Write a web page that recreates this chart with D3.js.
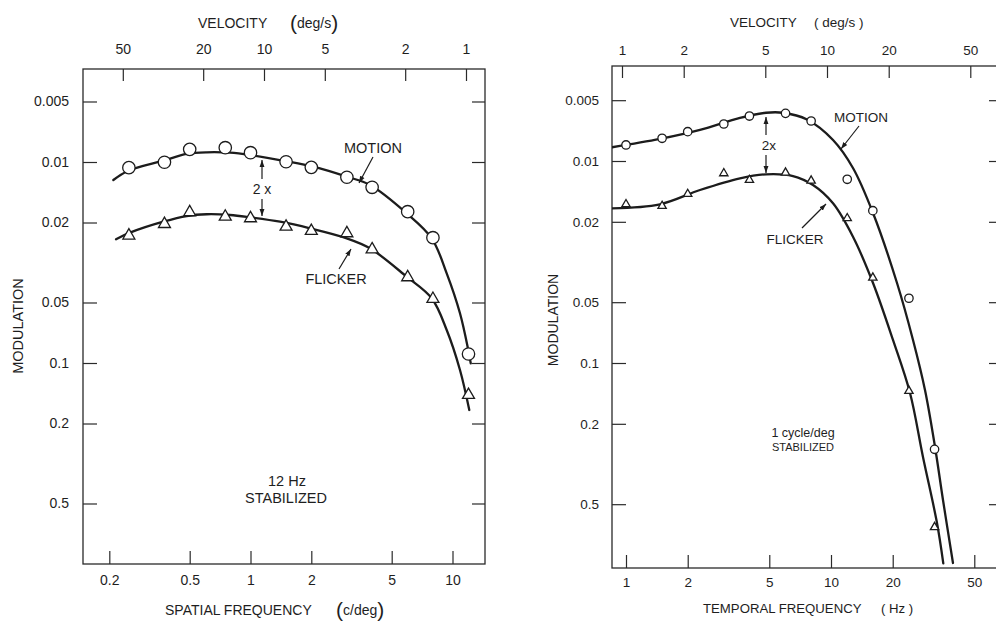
<!DOCTYPE html>
<html><head><meta charset="utf-8">
<script src="https://cdn.jsdelivr.net/npm/d3@7"></script>
<style>
body{margin:0;background:#fff}
svg{display:block}
text{font-family:"Liberation Sans",Arial,Helvetica,sans-serif;fill:#1e1e1e}
</style>
</head><body>
<svg id="c" width="996" height="621"></svg>
<script>
// ---------- data ----------
const yTicks = [0.005, 0.01, 0.02, 0.05, 0.1, 0.2, 0.5];
const yTickLabels = ["0.005", "0.01", "0.02", "0.05", "0.1", "0.2", "0.5"];

const sfTicks = [0.2, 0.5, 1, 2, 5, 10];
const sfTickLabels = ["0.2", "0.5", "1", "2", "5", "10"];
const velTicksLeft = [50, 20, 10, 5, 2, 1];
const velTickLabelsLeft = ["50", "20", "10", "5", "2", "1"];

const tfTicks = [1, 2, 5, 10, 20, 50];
const tfTickLabels = ["1", "2", "5", "10", "20", "50"];
const velTicksRight = [1, 2, 5, 10, 20, 50];
const velTickLabelsRight = ["1", "2", "5", "10", "20", "50"];

// left panel: spatial frequency (c/deg) at 12 Hz
const sfPoints = [0.25, 0.375, 0.5, 0.75, 1, 1.5, 2, 3, 4, 6, 8, 12];
const sfMotion = [0.01067, 0.01003, 0.00865, 0.00849, 0.00899, 0.00997, 0.01063, 0.01191, 0.01336, 0.01767, 0.0238, 0.0902];
const sfFlicker = [0.02323, 0.02035, 0.01779, 0.01871, 0.01906, 0.02099, 0.02204, 0.02263, 0.0272, 0.03747, 0.0480, 0.1443];

// fitted curves
const sfMotionCurveX = [0.2094, 0.2483, 0.370, 0.4833, 0.607, 0.7916, 0.994, 1.482, 2.046, 2.995, 3.905, 5.933, 7.889, 9.36, 10.89, 11.97, 12.31];
const sfMotionCurveY = [0.01229, 0.01105, 0.00985, 0.00912, 0.00895, 0.00899, 0.00923, 0.00989, 0.01055, 0.01183, 0.01301, 0.01800, 0.02397, 0.03579, 0.05657, 0.0862, 0.1003];
const sfFlickerCurveX = [0.2159, 0.2532, 0.370, 0.4833, 0.607, 0.7916, 0.994, 1.400, 1.970, 2.995, 3.905, 5.933, 7.889, 9.36, 10.89, 12.11];
const sfFlickerCurveY = [0.02424, 0.02247, 0.01982, 0.01857, 0.01820, 0.01835, 0.01884, 0.01982, 0.02137, 0.02397, 0.02688, 0.03722, 0.04766, 0.06852, 0.1083, 0.1713];

// right panel: temporal frequency (Hz) at 1 c/deg
const tfPoints = [1, 1.5, 2, 3, 4, 6, 8, 12, 16, 24, 32];
const tfMotion = [0.00833, 0.00772, 0.00716, 0.00656, 0.00599, 0.00581, 0.00634, 0.01232, 0.01762, 0.0478, 0.2675];
const tfFlicker = [0.01638, 0.0167, 0.01457, 0.01151, 0.01242, 0.01143, 0.01252, 0.01921, 0.03783, 0.1376, 0.650];

const tfMotionCurveX = [0.855, 1.465, 2.296, 3.598, 4.82, 5.833, 7.636, 10.23, 12.80, 16.03, 20.99, 25.12, 28.74, 32.17, 35.18, 39.36];
const tfMotionCurveY = [0.00855, 0.00778, 0.00702, 0.00612, 0.00577, 0.00577, 0.00623, 0.00787, 0.01083, 0.01809, 0.04018, 0.0769, 0.1360, 0.2605, 0.4767, 0.9772];
const tfFlickerCurveX = [0.855, 1.465, 2.296, 3.598, 4.82, 6.526, 8.171, 10.23, 12.80, 16.03, 20.06, 24.29, 28.10, 32.89, 35.30];
const tfFlickerCurveY = [0.01715, 0.01638, 0.01392, 0.01218, 0.01164, 0.01187, 0.01315, 0.01620, 0.02371, 0.04018, 0.0769, 0.1408, 0.2920, 0.6198, 0.9808];

const stimSpeedLeft = 12; // Hz  -> velocity = 12 / sf
const stimSfRight = 1;    // c/deg -> velocity = tf * 1

// ---------- drawing ----------
const svg = d3.select("#c");
const INK = "#1c1c1c";

const defs = svg.append("defs");
defs.append("marker").attr("id", "ah").attr("viewBox", "0 0 10 10")
  .attr("refX", 10).attr("refY", 5).attr("markerWidth", 7).attr("markerHeight", 7)
  .attr("markerUnits", "userSpaceOnUse").attr("orient", "auto")
  .append("path").attr("d", "M0,1.5 L10,5 L0,8.5 Z").attr("fill", INK);

function panel(cfg) {
  const g = svg.append("g");
  const x = d3.scaleLog().domain([1, 10]).range(cfg.xr);
  const y = d3.scaleLog().domain([0.01, 0.1]).range(cfg.yr);
  const top = d3.scaleLog().domain(cfg.velDom).range(cfg.velRange);
  const [fx0, fx1, fy0, fy1] = cfg.frame;

  const clipId = "clip" + cfg.id;
  defs.append("clipPath").attr("id", clipId).append("rect")
    .attr("x", fx0).attr("y", fy0).attr("width", fx1 - fx0).attr("height", fy1 - fy0);

  // frame
  g.append("rect").attr("x", fx0).attr("y", fy0).attr("width", fx1 - fx0).attr("height", fy1 - fy0)
    .attr("fill", "none").attr("stroke", "#2a2a2a").attr("stroke-width", 1.3);

  const styleAxis = (sel, fs) => {
    sel.select(".domain").remove();
    sel.selectAll(".tick line").attr("stroke", "#2a2a2a").attr("stroke-width", 1.2);
    sel.selectAll(".tick text").attr("font-size", fs).attr("fill", "#1e1e1e")
      .attr("font-family", '"Liberation Sans",Arial,sans-serif');
  };

  // bottom axis
  g.append("g").attr("transform", `translate(0,${fy1})`)
    .call(d3.axisBottom(x).tickValues(cfg.xTicks).tickFormat((d, i) => cfg.xLabels[i])
      .tickSizeInner(-13).tickSizeOuter(0).tickPadding(cfg.bPad))
    .call(s => styleAxis(s, cfg.fs));
  // top axis (velocity)
  g.append("g").attr("transform", `translate(0,${fy0})`)
    .call(d3.axisTop(top).tickValues(cfg.velTicks).tickFormat((d, i) => cfg.velLabels[i])
      .tickSizeInner(-12).tickSizeOuter(0).tickPadding(cfg.tPad))
    .call(s => styleAxis(s, cfg.fs));
  // left axis
  g.append("g").attr("transform", `translate(${fx0},0)`)
    .call(d3.axisLeft(y).tickValues(yTicks).tickFormat((d, i) => yTickLabels[i])
      .tickSizeInner(-14).tickSizeOuter(0).tickPadding(cfg.lPad))
    .call(s => styleAxis(s, cfg.fs));
  // right axis (ticks only)
  g.append("g").attr("transform", `translate(${fx1},0)`)
    .call(d3.axisRight(y).tickValues(yTicks).tickFormat("")
      .tickSizeInner(-cfg.rTick).tickSizeOuter(0))
    .call(s => styleAxis(s, cfg.fs));

  // curves
  const line = d3.line().x(d => x(d[0])).y(d => y(d[1])).curve(d3.curveCatmullRom.alpha(0.5));
  const cg = g.append("g").attr("clip-path", `url(#${clipId})`);
  [[cfg.mcx, cfg.mcy], [cfg.fcx, cfg.fcy]].forEach(([cx, cy]) => {
    cg.append("path").datum(d3.zip(cx, cy)).attr("d", line)
      .attr("fill", "none").attr("stroke", INK).attr("stroke-width", 2.3)
      .attr("stroke-linecap", "round");
  });

  // points
  g.append("g").selectAll("circle").data(d3.zip(cfg.px, cfg.motion)).join("circle")
    .attr("cx", d => x(d[0])).attr("cy", d => y(d[1])).attr("r", cfg.r)
    .attr("fill", "#fff").attr("stroke", INK).attr("stroke-width", 1.3);
  const tri = d3.symbol().type(d3.symbolTriangle).size(cfg.tri);
  g.append("g").selectAll("path").data(d3.zip(cfg.px, cfg.flicker)).join("path")
    .attr("transform", d => `translate(${x(d[0])},${y(d[1])})`).attr("d", tri)
    .attr("fill", "#fff").attr("stroke", INK).attr("stroke-width", 1.3);

  return {g, x, y};
}

function arrow(g, x1, y1, x2, y2) {
  g.append("line").attr("x1", x1).attr("y1", y1).attr("x2", x2).attr("y2", y2)
    .attr("stroke", INK).attr("stroke-width", 1.2).attr("marker-end", "url(#ah)");
}
function label(g, txt, x, y, fs, anchor) {
  return g.append("text").attr("x", x).attr("y", y).attr("font-size", fs)
    .attr("text-anchor", anchor || "middle").attr("dominant-baseline", "central").text(txt);
}

// left panel
const L = panel({
  id: "L", xr: [250.5, 452.5], yr: [162, 363], frame: [83, 485, 69, 564],
  velDom: [stimSpeedLeft / 1, stimSpeedLeft / 10], velRange: [248, 450],
  xTicks: sfTicks, xLabels: sfTickLabels, velTicks: velTicksLeft, velLabels: velTickLabelsLeft,
  fs: 14, bPad: 11, tPad: 15, lPad: 14, rTick: 13,
  mcx: sfMotionCurveX, mcy: sfMotionCurveY, fcx: sfFlickerCurveX, fcy: sfFlickerCurveY,
  px: sfPoints, motion: sfMotion, flicker: sfFlicker, r: 6.2, tri: 62
});
// right panel
const R = panel({
  id: "R", xr: [626, 831], yr: [161, 363], frame: [612, 998, 66, 568],
  velDom: [stimSfRight * 1, stimSfRight * 10], velRange: [622, 827],
  xTicks: tfTicks, xLabels: tfTickLabels, velTicks: velTicksRight, velLabels: velTickLabelsRight,
  fs: 13.5, bPad: 9, tPad: 11, lPad: 13, rTick: 9,
  mcx: tfMotionCurveX, mcy: tfMotionCurveY, fcx: tfFlickerCurveX, fcy: tfFlickerCurveY,
  px: tfPoints, motion: tfMotion, flicker: tfFlicker, r: 4.2, tri: 30
});

// ---------- annotations, left ----------
const gl = L.g;
label(gl, "MOTION", 373, 148, 14.5);
arrow(gl, 373, 157, 359, 183);
label(gl, "2 x", 262, 189, 14);
arrow(gl, 262, 179, 262, 160);
arrow(gl, 262, 199, 262, 216);
label(gl, "FLICKER", 336, 279, 14.5);
arrow(gl, 339, 269, 351, 249);
label(gl, "12 Hz", 287, 481, 14.5);
label(gl, "STABILIZED", 286, 498, 14.5);

// axis titles left
let t = gl.append("text").attr("x", 198).attr("y", 28).attr("font-size", 14);
t.append("tspan").text("VELOCITY");
t.append("tspan").attr("x", 290).attr("font-size", 21).attr("dy", 2).text("(");
t.append("tspan").attr("font-size", 14).attr("dy", -2).text("deg/s");
t.append("tspan").attr("font-size", 21).attr("dy", 2).text(")");

t = gl.append("text").attr("x", 165).attr("y", 615).attr("font-size", 14);
t.append("tspan").text("SPATIAL FREQUENCY");
t.append("tspan").attr("x", 336).attr("font-size", 21).attr("dy", 2).text("(");
t.append("tspan").attr("font-size", 14).attr("dy", -2).text("c/deg");
t.append("tspan").attr("font-size", 21).attr("dy", 2).text(")");

gl.append("text").attr("transform", "translate(23,326) rotate(-90)")
  .attr("text-anchor", "middle").attr("font-size", 14.5).text("MODULATION");

// ---------- annotations, right ----------
const gr = R.g;
label(gr, "MOTION", 861, 117, 13.5);
arrow(gr, 859, 126, 841, 149);
label(gr, "2x", 769, 145, 13.5);
arrow(gr, 766, 135, 766, 117);
arrow(gr, 766, 155, 766, 173);
label(gr, "FLICKER", 795, 239, 13.5);
arrow(gr, 802, 228, 826, 204);
label(gr, "1 cycle/deg", 803, 433, 12.5);
label(gr, "STABILIZED", 803, 447, 11);

t = gr.append("text").attr("x", 730).attr("y", 27).attr("font-size", 13.5);
t.append("tspan").text("VELOCITY");
t.append("tspan").attr("x", 814).text("( deg/s )");

t = gr.append("text").attr("x", 703).attr("y", 613).attr("font-size", 13.2);
t.append("tspan").text("TEMPORAL FREQUENCY");
t.append("tspan").attr("x", 881).text("( Hz )");

gr.append("text").attr("transform", "translate(558,320) rotate(-90)")
  .attr("text-anchor", "middle").attr("font-size", 14).text("MODULATION");
</script>
</body></html>
